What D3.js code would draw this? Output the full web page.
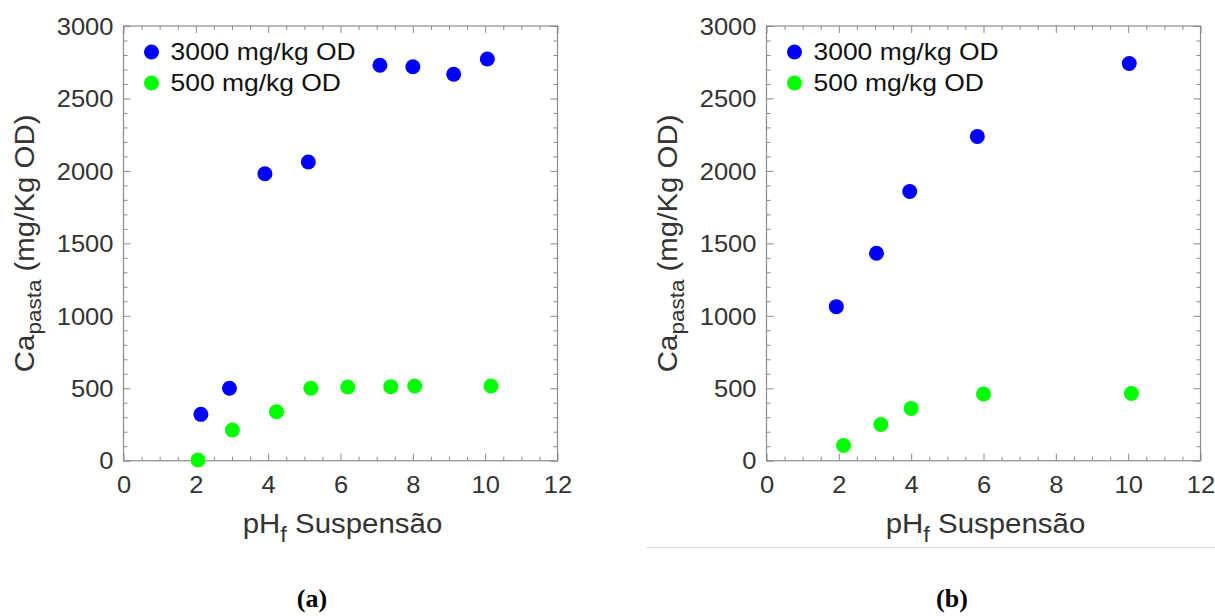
<!DOCTYPE html>
<html>
<head>
<meta charset="utf-8">
<script src="https://cdn.jsdelivr.net/npm/d3@7"></script>
<style>
  html, body { margin: 0; padding: 0; background: #fff; }
  svg { display: block; }
</style>
</head>
<body>
<svg id="fig" width="1215" height="616" font-family="Liberation Sans, Arial, sans-serif"></svg>
<script>
// pH_f of the suspension vs. Ca retained in the pulp, two dosages per panel
const xTicks = [0, 2, 4, 6, 8, 10, 12];
const yTicks = [0, 500, 1000, 1500, 2000, 2500, 3000];
const seriesNames = ["3000 mg/kg OD", "500 mg/kg OD"];
const seriesColors = ["#0000ff", "#00ff00"];

// Panel (a)
const phA3000 = [2.14, 2.93, 3.91, 5.11, 7.09, 8.0, 9.13, 10.06];
const caA3000 = [320, 500, 1980, 2061, 2729, 2719, 2667, 2772];
const phA500 = [2.06, 3.01, 4.23, 5.18, 6.2, 7.39, 8.05, 10.16];
const caA500 = [5, 212, 338, 500, 509, 511, 516, 516];

// Panel (b)
const phB3000 = [1.93, 3.04, 3.96, 5.83, 10.03];
const caB3000 = [1063, 1432, 1858, 2238, 2741];
const phB500 = [2.13, 3.16, 4.0, 6.0, 10.09];
const caB500 = [105, 250, 361, 460, 464];

const panelLabels = ["(a)", "(b)"];

const svg = d3.select("#fig");
const frameColor = "#8a8a8a";
const textColor = "#333";
const sansFont = "Liberation Sans, Arial, sans-serif";
const wide = "scale(1.11,1)";   // slightly widened glyphs for tick labels and legend

function drawPanel(opts) {
  const { left, right, top, bottom, series, label, labelX } = opts;
  const x = d3.scaleLinear().domain([0, 12]).range([left, right]);
  const y = d3.scaleLinear().domain([0, 3000]).range([bottom, top]);
  const g = svg.append("g");

  // minor/major ticks on all four sides, pointing inward
  const xMinor = d3.range(0, 12.001, 0.5);
  const yMinor = d3.range(0, 3000.1, 100);
  const addAxis = (axis, tr) => {
    const a = g.append("g").attr("transform", tr).call(axis);
    a.select(".domain").remove();
    a.selectAll("line").attr("stroke", frameColor).attr("stroke-width", 1);
    a.selectAll("text").remove();
    return a;
  };
  const isMajorX = v => Math.abs(v / 2 - Math.round(v / 2)) < 1e-6;
  const isMajorY = v => v % 500 === 0;
  addAxis(d3.axisBottom(x).tickValues(xMinor).tickSize(-4), `translate(0,${bottom})`)
    .selectAll(".tick line").attr("y2", d => isMajorX(d) ? -7 : -4);
  addAxis(d3.axisTop(x).tickValues(xMinor).tickSize(-4), `translate(0,${top})`)
    .selectAll(".tick line").attr("y2", d => isMajorX(d) ? 7 : 4);
  addAxis(d3.axisLeft(y).tickValues(yMinor).tickSize(-4), `translate(${left},0)`)
    .selectAll(".tick line").attr("x2", d => isMajorY(d) ? 7 : 4);
  addAxis(d3.axisRight(y).tickValues(yMinor).tickSize(-4), `translate(${right},0)`)
    .selectAll(".tick line").attr("x2", d => isMajorY(d) ? -7 : -4);

  // frame
  g.append("rect")
    .attr("x", left).attr("y", top)
    .attr("width", right - left).attr("height", bottom - top)
    .attr("fill", "none").attr("stroke", frameColor).attr("stroke-width", 1.2);

  // tick labels
  const xl = g.append("g").attr("transform", `translate(0,${bottom})`)
    .call(d3.axisBottom(x).tickValues(xTicks).tickFormat(d3.format("d"))
      .tickSize(0).tickPadding(32.5));
  xl.select(".domain").remove();
  xl.selectAll("text").attr("font-size", 23).attr("fill", textColor)
    .attr("font-family", sansFont).attr("dy", 0).attr("transform", wide);

  const yl = g.append("g").attr("transform", `translate(${left},0)`)
    .call(d3.axisLeft(y).tickValues(yTicks).tickFormat(d3.format("d"))
      .tickSize(0).tickPadding(9));
  yl.select(".domain").remove();
  yl.selectAll("text").attr("font-size", 23).attr("fill", textColor)
    .attr("font-family", sansFont).attr("dy", "0.36em").attr("transform", wide);

  // axis titles
  const cx = (left + right) / 2 + 2;
  const xt = g.append("text")
    .attr("transform", `translate(${cx},${bottom + 72.3}) scale(1.07,1)`)
    .attr("text-anchor", "middle").attr("font-size", 27.5).attr("fill", textColor);
  xt.append("tspan").text("pH");
  xt.append("tspan").attr("font-size", 22).attr("dy", 9).text("f");
  xt.append("tspan").attr("dy", -9).text(" Suspensão");

  const cy = (top + bottom) / 2;
  const yt = g.append("text")
    .attr("transform", `translate(${left - 89.5},${cy}) rotate(-90) scale(1.07,1)`)
    .attr("text-anchor", "middle").attr("font-size", 27.5).attr("fill", textColor);
  yt.append("tspan").text("Ca");
  yt.append("tspan").attr("font-size", 21).attr("dy", 7).text("pasta");
  yt.append("tspan").attr("dy", -7).text(" (mg/Kg OD)");

  // points
  series.forEach((s, i) => {
    g.append("g").selectAll("circle")
      .data(d3.zip(s.ph, s.ca))
      .join("circle")
      .attr("cx", d => x(d[0]))
      .attr("cy", d => y(d[1]))
      .attr("r", 7.5)
      .attr("fill", seriesColors[i]);
  });

  // legend
  const lg = g.append("g").attr("transform", `translate(${left + 28},${top + 26})`);
  seriesNames.forEach((name, i) => {
    const row = lg.append("g").attr("transform", `translate(0,${i * 31})`);
    row.append("circle").attr("r", 7.5).attr("fill", seriesColors[i]);
    row.append("text").attr("x", 19).attr("dy", "0.36em")
      .attr("transform", "translate(0,0) scale(1.15,1)")
      .attr("x", 19 / 1.15)
      .attr("font-size", 23).attr("fill", "#111").text(name);
  });

  // panel label
  svg.append("text").attr("x", labelX).attr("y", 607)
    .attr("text-anchor", "middle")
    .attr("font-family", "Liberation Serif, 'Times New Roman', serif")
    .attr("font-weight", "bold").attr("font-size", 26).attr("fill", "#000")
    .text(label);
}

drawPanel({
  left: 123.5, right: 557.5, top: 26, bottom: 460.7,
  series: [{ ph: phA3000, ca: caA3000 }, { ph: phA500, ca: caA500 }],
  label: panelLabels[0], labelX: 312
});

drawPanel({
  left: 766.5, right: 1200.5, top: 26, bottom: 460.7,
  series: [{ ph: phB3000, ca: caB3000 }, { ph: phB500, ca: caB500 }],
  label: panelLabels[1], labelX: 952
});

// thin rule under panel (b)
svg.append("line")
  .attr("x1", 646).attr("x2", 1215).attr("y1", 547.5).attr("y2", 547.5)
  .attr("stroke", "#dcdcdc").attr("stroke-width", 1);
</script>
</body>
</html>
